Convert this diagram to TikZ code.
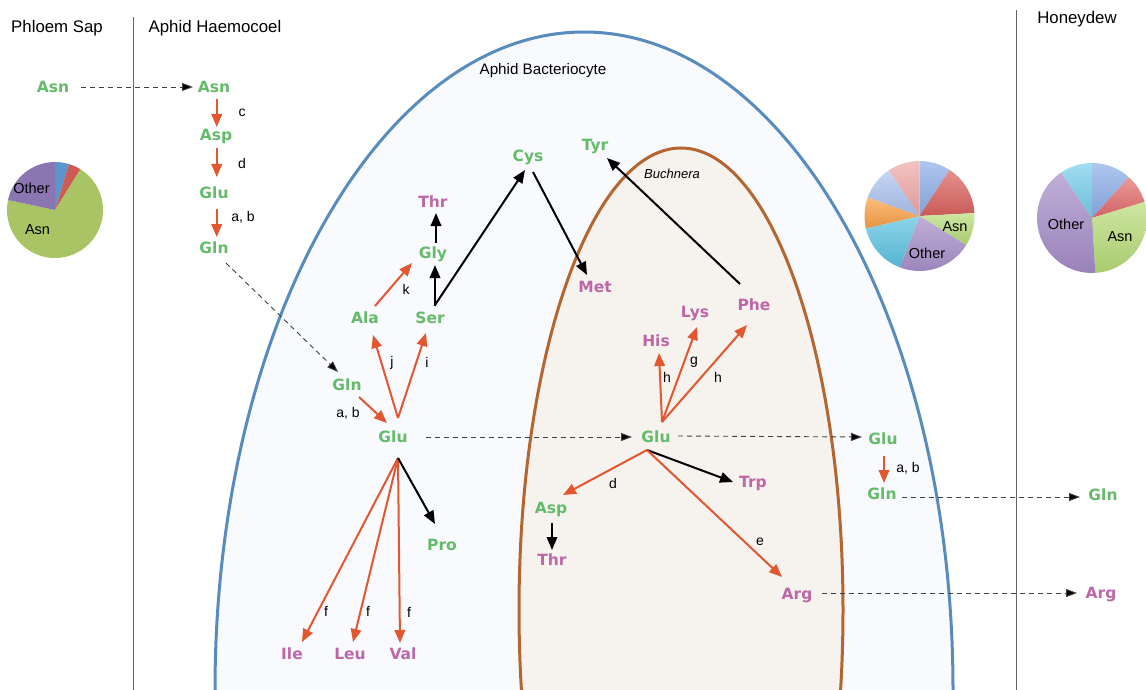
\documentclass[tikz,border=0pt]{standalone}
\usepackage{fontspec}
\setmainfont{Liberation Sans}
\newfontfamily\aafont{DejaVu Sans}
\usetikzlibrary{arrows.meta,calc}
\definecolor{aagreen}{RGB}{100,187,106}
\definecolor{aapink}{RGB}{188,104,168}
\definecolor{rxorange}{RGB}{226,86,48}
\definecolor{cellblue}{RGB}{88,140,190}
\definecolor{cellfill}{RGB}{248,250,253}
\definecolor{bucbrown}{RGB}{180,102,48}
\definecolor{bucfill}{RGB}{246,242,238}
\definecolor{pAblue}{RGB}{92,148,205}
\definecolor{pAred}{RGB}{205,90,85}
\definecolor{pAgreen}{RGB}{168,196,100}
\definecolor{pApurple}{RGB}{140,118,178}
\definecolor{pBblue}{RGB}{140,174,232}
\definecolor{pBred}{RGB}{218,98,94}
\definecolor{pBgreen}{RGB}{184,220,120}
\definecolor{pBpurple}{RGB}{165,140,200}
\definecolor{pBcyan}{RGB}{92,195,225}
\definecolor{pBorange}{RGB}{250,160,70}
\definecolor{pBperi}{RGB}{172,195,240}
\definecolor{pBpink}{RGB}{238,168,168}
\definecolor{pCred}{RGB}{228,108,108}
\definecolor{pCcyan}{RGB}{118,206,235}
\newcommand{\pieslice}[4]{\shade[top color=#4!70!white,bottom color=#4!92!black] (0,0) -- (#1:#3) arc[start angle=#1,end angle=#2,radius=#3] -- cycle;}
\newcommand{\pieflat}[4]{\fill[#4] (0,0) -- (#1:#3) arc[start angle=#1,end angle=#2,radius=#3] -- cycle;}
\begin{document}
\begin{tikzpicture}[x=1pt,y=-1pt,
  aa/.style={font=\aafont\bfseries\fontsize{15.5}{18}\selectfont,inner sep=0pt,text height=11pt,text depth=0pt},
  gaa/.style={aa,text=aagreen},
  paa/.style={aa,text=aapink},
  rx/.style={draw=rxorange,line width=2pt,-{Triangle[length=13pt,width=10.5pt]}},
  bx/.style={draw=black,line width=2pt,-{Triangle[length=13pt,width=10.5pt]}},
  tx/.style={draw=black!75,line width=0.9pt,dash pattern=on 5pt off 4pt,-{Triangle[length=11pt,width=8pt,fill=black]}},
  lab/.style={font=\fontsize{14}{16}\selectfont,inner sep=0pt},
  hdr/.style={font=\fontsize{16.8}{20}\selectfont,inner sep=0pt},
  pielab/.style={font=\fontsize{14.5}{17}\selectfont,inner sep=0pt},
  vline/.style={draw=black!60,line width=1pt}
]
\useasboundingbox (0,0) rectangle (1146,690);
\begin{scope}
\clip (0,0) rectangle (1146,690);
\fill[white] (0,0) rectangle (1146,690);
% cells
\filldraw[fill=cellfill,draw=cellblue,line width=3pt] (584,690) ellipse[x radius=369,y radius=658];
\filldraw[fill=bucfill,draw=bucbrown,line width=3pt] (681,610) ellipse[x radius=162,y radius=462];
% column lines
\draw[vline] (133,17) -- (133,690);
\draw[vline] (1016,10) -- (1016,690);
% pies
\begin{scope}[shift={(55,210)},yscale=-1]
\pieflat{90}{73}{48}{pAblue}
\pieflat{73}{58}{48}{pAred}
\pieflat{58}{-192}{48}{pAgreen}
\pieflat{168}{90}{48}{pApurple}
\end{scope}
\begin{scope}[shift={(919.5,216)},yscale=-1]
\pieslice{90}{57}{55}{pBblue}
\pieslice{57}{3}{55}{pBred}
\pieslice{3}{-32}{55}{pBgreen}
\pieslice{-32}{-111}{55}{pBpurple}
\pieslice{-111}{-167}{55}{pBcyan}
\pieslice{193}{160}{55}{pBorange}
\pieslice{160}{124}{55}{pBperi}
\pieslice{124}{90}{55}{pBpink}
\end{scope}
\begin{scope}[shift={(1092,218)},yscale=-1]
\pieslice{90}{48}{55}{pBblue}
\pieslice{48}{17}{55}{pCred}
\pieslice{17}{-86.5}{55}{pBgreen}
\pieslice{273.5}{124}{55}{pBpurple}
\pieslice{124}{90}{55}{pCcyan}
\end{scope}
\node[pielab] (pieAo) at (31.5,188) {Other};
\node[pielab] (pieAa) at (37.5,230) {Asn};
\node[pielab] (pieBa) at (955,227) {Asn};
\node[pielab] (pieBo) at (927,253) {Other};
\node[pielab] (pieCo) at (1066,224) {Other};
\node[pielab] (pieCa) at (1120,237) {Asn};
% headers
\node[hdr] (hPhl) at (57,28) {Phloem Sap};
\node[hdr] (hHae) at (215,28) {Aphid Haemocoel};
\node[hdr] (hHon) at (1077,19) {Honeydew};
\node[font=\fontsize{15.2}{18}\selectfont,inner sep=0pt] (hBac) at (543,71) {Aphid Bacteriocyte};
\node[font=\itshape\fontsize{13}{15}\selectfont,inner sep=0pt] (hBuc) at (672,174) {Buchnera};
% amino acid nodes
\node[gaa] (pAsn) at (53,87) {Asn};
\node[gaa] (hAsn) at (214,87) {Asn};
\node[gaa] (hAsp) at (216,135) {Asp};
\node[gaa] (hGlu) at (214,193) {Glu};
\node[gaa] (hGln) at (214,248) {Gln};
\node[gaa] (bGln) at (347,385) {Gln};
\node[gaa] (bGlu) at (393,437) {Glu};
\node[gaa] (bAla) at (365,318) {Ala};
\node[gaa] (bSer) at (430,318) {Ser};
\node[gaa] (bGly) at (433,253) {Gly};
\node[paa] (bThr) at (433,202) {Thr};
\node[gaa] (bCys) at (528,156) {Cys};
\node[paa] (bMet) at (595,287) {Met};
\node[gaa] (bTyr) at (595,145) {Tyr};
\node[paa] (uPhe) at (754,305) {Phe};
\node[paa] (uLys) at (695,312) {Lys};
\node[paa] (uHis) at (656,341) {His};
\node[gaa] (uGlu) at (656,437) {Glu};
\node[gaa] (uAsp) at (551,508) {Asp};
\node[paa] (uThr) at (552,560) {Thr};
\node[paa] (uTrp) at (753,482) {Trp};
\node[paa] (uArg) at (797,594) {Arg};
\node[gaa] (bPro) at (442,545) {Pro};
\node[paa] (bIle) at (292,654) {Ile};
\node[paa] (bLeu) at (350,654) {Leu};
\node[paa] (bVal) at (403,654) {Val};
\node[gaa] (rGlu) at (883,439) {Glu};
\node[gaa] (rGln) at (882,494) {Gln};
\node[gaa] (dGln) at (1103,495) {Gln};
\node[paa] (dArg) at (1101,593) {Arg};
% fan origins
\coordinate (fanA) at (398,418);
\coordinate (fanB) at (662,422);
\coordinate (fanC) at (647,450);
\coordinate (fanD) at (398,458);
% haemocoel chain
\draw[tx] ($(pAsn)+(28,0)$) -- ($(hAsn)+(-21,0)$);
\draw[rx] ($(hAsn)+(2.7,12)$) -- ($(hAsp)+(0.7,-8)$);
\draw[rx] ($(hAsp)+(0.7,13)$) -- ($(hGlu)+(2.7,-16)$);
\draw[rx] ($(hGlu)+(2.7,16)$) -- ($(hGln)+(2.7,-11)$);
\node[lab] (lc) at (242,113) {c};
\node[lab] (ld1) at (242,163) {d};
\node[lab] (lab1) at (243,217) {a, b};
\draw[tx] ($(hGln)+(12,15)$) -- ($(bGln)+(-9,-13)$);
% bacteriocyte
\draw[rx] ($(bGln)+(12,12)$) -- ($(bGlu)+(-6,-14)$);
\node[lab] (lab2) at (348,413) {a, b};
\draw[rx] (fanA) -- ($(bAla)+(8,17)$);
\draw[rx] (fanA) -- ($(bSer)+(-4,15)$);
\node[lab] (lj) at (392,363) {j};
\node[lab] (li) at (427,362) {i};
\draw[rx] ($(bAla)+(10,-12)$) -- ($(bGly)+(-21,10)$);
\node[lab] (lk) at (406,289) {k};
\draw[bx] ($(bSer)+(5,-13)$) -- ($(bGly)+(2,12)$);
\draw[bx] ($(bGly)+(3,-10)$) -- ($(bThr)+(3,11)$);
\draw[bx,shorten <=-1pt] ($(bSer)+(5,-13)$) -- ($(bCys)+(-3,14)$);
\draw[bx] ($(bCys)+(5,16)$) -- ($(bMet)+(-8,-12)$);
\draw[bx] ($(uPhe)+(-14,-21)$) -- ($(bTyr)+(12,13)$);
% buchnera
\draw[rx] (fanB) -- ($(uHis)+(3,12)$);
\draw[rx] (fanB) -- ($(uLys)+(2,15)$);
\draw[rx] (fanB) -- ($(uPhe)+(-7,20)$);
\node[lab] (lh1) at (667,377) {h};
\node[lab] (lg) at (694,362) {g};
\node[lab] (lh2) at (718,377) {h};
\draw[tx] ($(bGlu)+(33,0)$) -- ($(uGlu)+(-24,0)$);
\draw[tx] ($(uGlu)+(22,-1)$) -- ($(rGlu)+(-21,-2)$);
\draw[rx] ($(rGlu)+(1,17)$) -- ($(rGln)+(2,-11)$);
\node[lab] (lab3) at (908,468) {a, b};
\draw[tx] ($(rGln)+(20,3)$) -- ($(dGln)+(-23,2)$);
\draw[tx] ($(uArg)+(25,-1)$) -- ($(dArg)+(-24,0)$);
\draw[rx] (fanC) -- ($(uAsp)+(12,-13)$);
\node[lab] (ld2) at (613,483) {d};
\draw[bx] (fanC) -- ($(uTrp)+(-20,0)$);
\draw[rx] (fanC) -- ($(uArg)+(-15,-17)$);
\node[lab] (le) at (760,542) {e};
\draw[bx] ($(uAsp)+(1,15)$) -- ($(uThr)+(0,-10)$);
% bacteriocyte lower
\draw[rx] (fanD) -- ($(bIle)+(10,-12)$);
\draw[rx] (fanD) -- ($(bLeu)+(3,-12)$);
\draw[rx] (fanD) -- ($(bVal)+(-3,-11)$);
\draw[bx] (fanD) -- ($(bPro)+(-7,-21)$);
\node[lab] (lf1) at (326,611) {f};
\node[lab] (lf2) at (368,611) {f};
\node[lab] (lf3) at (409,612) {f};
\end{scope}
\end{tikzpicture}
\end{document}
